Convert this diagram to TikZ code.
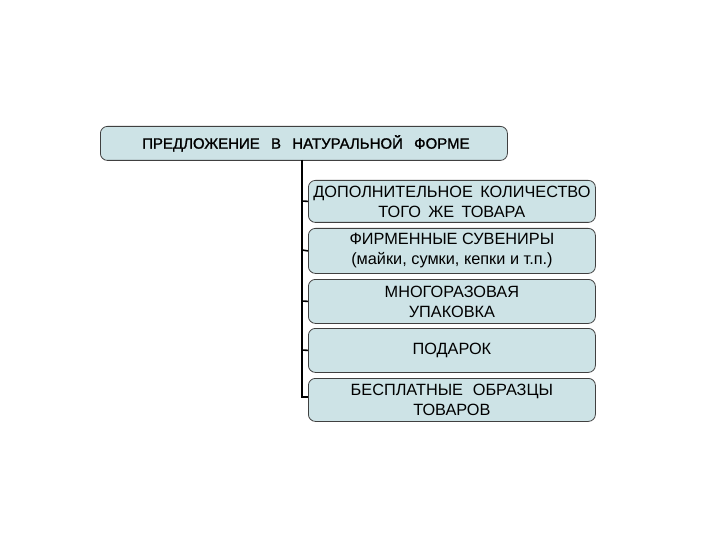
\documentclass[tikz,border=0pt]{standalone}
\usepackage{fontspec}
\setmainfont{Liberation Sans}
\newfontfamily\topfont[FakeBold=1.2]{Liberation Sans}
\begin{document}
\begin{tikzpicture}[x=1pt,y=-1pt,
  box/.style={draw=black!75, line width=0.8pt, fill=boxfill, rounded corners=7pt, inner sep=0pt, anchor=north west},
  lbl/.style={align=center, font=\fontsize{16.3}{20}\selectfont},
  conn/.style={line width=1.6pt, black}]
\definecolor{boxfill}{HTML}{CDE3E6}
\useasboundingbox (0,0) rectangle (720,540);
\node[box, minimum width=407pt, minimum height=34pt] (top) at (100,126) {};
\node[font=\topfont\fontsize{15}{18}\selectfont] at ([xshift=2pt]top.center) {ПРЕДЛОЖЕНИЕ\hspace{0.75em}В\hspace{0.75em}НАТУРАЛЬНОЙ\hspace{0.75em}ФОРМЕ};
\node[box, minimum width=287pt, minimum height=42pt] (b1) at (308,180) {};
\node[lbl] at (b1.center) {ДОПОЛНИТЕЛЬНОЕ\hspace{0.45em}КОЛИЧЕСТВО\\ТОГО\hspace{0.45em}ЖЕ\hspace{0.45em}ТОВАРА};
\node[box, minimum width=287pt, minimum height=45pt] (b2) at (308,228) {};
\node[lbl] at (b2.center) {ФИРМЕННЫЕ СУВЕНИРЫ\\(майки, сумки, кепки и т.п.)};
\node[box, minimum width=287pt, minimum height=44pt] (b3) at (308,279) {};
\node[lbl] at (b3.center) {МНОГОРАЗОВАЯ\\УПАКОВКА};
\node[box, minimum width=287pt, minimum height=44pt] (b4) at (308,328) {};
\node[lbl] at (b4.center) {ПОДАРОК};
\node[box, minimum width=287pt, minimum height=43pt] (b5) at (308,378) {};
\node[lbl] at (b5.center) {БЕСПЛАТНЫЕ\hspace{0.6em}ОБРАЗЦЫ\\ТОВАРОВ};
\coordinate (v0) at (302,160);
\coordinate (v5) at (302,397);
\draw[conn] (v0) -- (v5) -- (b5.west |- v5);
\draw[conn] (302,201) -- (b1.west);
\draw[conn] (302,250) -- (b2.west);
\draw[conn] (302,301) -- (b3.west);
\draw[conn] (302,350) -- (b4.west);
\end{tikzpicture}
\end{document}
